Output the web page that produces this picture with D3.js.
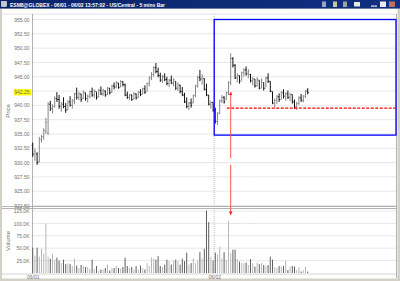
<!DOCTYPE html>
<html>
<head>
<meta charset="utf-8">
<script src="https://cdn.jsdelivr.net/npm/d3@7"></script>
<style>
  html, body { margin: 0; padding: 0; background: #d4d0c8; }
  svg { display: block; font-family: "Liberation Sans", Arial, sans-serif; }
</style>
</head>
<body>
<div id="chart"></div>
<script>
// ESM8 5 min bars, 06/01 - 06/02
const highs = [933.5,932.5,931.8,934.5,934.8,936.0,937.8,940.6,940.8,940.2,941.6,942.3,941.8,940.6,941.4,940.4,940.9,941.6,941.1,942.2,
  943.1,942.4,942.0,942.6,942.2,941.9,942.6,943.1,942.8,942.3,942.9,943.3,942.9,942.6,943.2,943.0,943.6,944.0,944.2,943.9,
  944.4,944.2,943.8,942.4,942.0,941.9,942.3,942.1,942.5,942.8,943.1,943.5,944.0,945.1,945.8,946.8,947.4,946.6,945.7,945.3,
  945.6,945.0,944.6,945.2,944.7,944.2,944.0,943.6,943.2,942.2,941.4,940.6,941.2,941.9,943.6,945.2,946.2,945.4,944.7,943.8,
  941.8,940.8,940.5,939.6,938.8,941.0,941.8,941.6,942.4,944.2,949.1,948.4,947.2,945.6,945.2,945.9,946.5,946.8,946.3,945.5,
  945.0,944.6,944.9,944.4,944.7,944.0,945.0,945.6,944.2,942.4,941.2,941.8,942.1,942.5,942.8,942.3,942.6,942.2,941.9,941.0,
  940.6,941.6,942.0,941.8,942.7,943.0];
const lows = [931.0,930.3,929.6,930.0,933.5,934.0,935.0,934.8,939.0,938.6,939.6,940.6,939.4,938.9,939.5,938.7,939.2,939.8,939.4,940.2,
  941.0,940.9,940.6,941.1,940.8,940.5,941.2,941.5,941.3,941.0,941.4,941.8,941.6,941.5,941.8,941.9,942.2,942.8,943.0,942.9,
  943.2,943.3,941.6,941.1,940.9,940.8,941.1,941.0,941.3,941.6,941.9,942.0,942.5,943.3,944.4,945.0,945.6,944.9,944.1,943.9,
  944.2,943.5,943.2,943.7,943.3,942.7,942.5,942.1,941.6,940.4,939.5,939.2,939.6,940.4,941.4,943.1,944.2,943.6,942.6,941.6,
  940.0,939.4,938.9,936.8,936.6,938.5,940.4,940.3,941.0,941.8,943.5,946.6,944.6,944.0,943.8,944.4,945.0,945.2,944.7,944.0,
  943.5,943.1,943.3,942.8,943.0,942.6,943.2,943.9,942.3,940.2,939.6,940.2,940.6,941.0,941.2,940.8,941.1,940.7,940.3,939.4,
  939.2,940.1,940.6,940.5,941.3,941.9];
const opens = [933.0,931.5,931.5,930.2,934.0,934.5,935.5,935.2,940.2,939.4,939.8,941.2,941.0,939.8,940.2,939.8,939.2,940.6,940.0,940.8,
  942.0,941.4,942.0,941.2,942.2,941.2,941.6,942.4,941.8,942.4,941.5,942.6,942.0,942.5,941.9,943.0,942.3,943.4,943.2,943.9,
  943.2,944.1,943.6,941.8,941.4,941.8,941.1,942.0,941.4,942.3,942.0,942.9,942.4,943.8,944.8,945.4,946.6,945.9,945.2,944.4,
  945.0,944.5,943.8,944.4,943.9,944.2,943.0,943.5,942.4,941.8,940.6,939.8,940.4,940.4,941.7,943.4,944.9,944.6,944.7,942.8,
  941.8,940.2,940.5,939.2,937.2,938.6,940.8,941.4,941.0,942.2,944.0,948.2,947.0,944.8,945.2,944.3,945.7,946.2,945.5,945.4,
  944.3,944.6,943.4,944.4,943.0,944.0,943.0,944.8,944.2,942.4,940.4,940.9,941.5,941.0,942.2,941.6,942.0,941.4,941.9,940.6,
  939.7,940.3,941.3,940.9,941.6,942.5];
const closes = [931.5,932.0,930.0,934.0,934.5,935.6,937.0,940.2,939.5,939.8,941.2,941.0,939.8,940.2,939.8,939.2,940.6,940.0,940.8,942.0,
  941.4,942.0,941.0,942.4,941.2,941.6,942.4,941.8,942.5,941.4,942.6,942.0,942.6,941.8,943.0,942.2,943.4,943.2,944.0,943.1,
  944.2,943.6,941.8,941.4,941.8,941.0,942.0,941.3,942.3,941.9,942.9,942.3,943.8,944.8,945.4,946.6,945.9,945.2,944.4,945.0,
  944.5,943.8,944.4,943.9,944.5,943.0,943.6,942.4,941.8,940.6,939.8,940.4,940.0,941.7,943.4,944.9,944.6,945.0,942.8,941.8,
  940.2,940.5,939.2,937.2,938.6,940.8,941.4,940.6,942.2,944.0,948.2,947.0,944.8,945.2,944.2,945.7,946.2,945.5,946.0,944.3,
  944.6,943.4,944.6,943.0,944.4,943.0,944.8,944.2,942.5,940.4,940.9,941.5,941.0,942.2,941.6,942.0,941.4,941.9,940.6,939.7,
  940.3,941.3,940.9,941.6,942.5,942.25];
// volume in thousands
const volumes = [51,35,51,33,49,39,99,33,29,39,27,31,25,20,27,18,20,18,14,29,15,10,16,14,12,12,8,27,8,14,5,7,7,10,17,5,10,10,14,10,
  9,12,31,14,10,12,7,14,7,15,10,7,20,14,31,29,27,34,14,12,17,27,24,17,25,27,24,17,29,24,41,17,20,29,20,25,42,29,49,126,
  103,33,25,41,37,53,30,42,27,105,40,47,47,28,23,20,20,21,16,28,20,13,21,18,20,16,14,16,33,27,12,10,14,13,14,25,6,13,14,13,
  6,12,3,6,13,3];

const priceTicks = [955, 952.5, 950, 947.5, 945, 942.5, 940, 937.5, 935, 932.5, 930, 927.5, 925, 922.5];
const volumeTicks = [25, 50, 75, 100, 125];
const dayStarts = [0, 83];
const dayLabels = ['06/01', '06/02'];
const lastPrice = 942.25;
const supportLevel = 939.5;
const titleText = 'ESM8@GLOBEX - 06/01 - 06/02 13:57:02 - US/Central - 5 mins Bar';

const width = 400, height = 281;
const plotLeft = 32.5, plotRight = 396;

const svg = d3.select('#chart').append('svg')
  .attr('width', width).attr('height', height);

// window frame
svg.append('rect').attr('x', 0).attr('y', 0).attr('width', width).attr('height', height).attr('fill', '#d4d0c8');
svg.append('rect').attr('x', 2).attr('y', 9).attr('width', 395.5).attr('height', 269.5).attr('fill', '#ffffff');

// title bar
const grad = svg.append('defs').append('linearGradient').attr('id', 'tb');
grad.append('stop').attr('offset', '0%').attr('stop-color', '#0a246a');
grad.append('stop').attr('offset', '100%').attr('stop-color', '#0f2f80');
svg.append('rect').attr('x', 0).attr('y', 0).attr('width', width).attr('height', 8.5).attr('fill', 'url(#tb)');
svg.append('rect').attr('x', 1.5).attr('y', 1.5).attr('width', 5).attr('height', 5).attr('fill', '#c8c8c8').attr('stroke', '#ffffff').attr('stroke-width', 0.5);
svg.append('text').text(titleText)
  .attr('x', 10).attr('y', 6.6)
  .attr('textLength', 155).attr('lengthAdjust', 'spacingAndGlyphs')
  .style('font-size', '6px').style('font-weight', 'bold').style('fill', '#ffffff');
// title bar buttons
[[322, '#9aa4c8'], [333, '#c8c8a0'], [343, '#a0a0a0']].forEach(function (b) {
  svg.append('rect').attr('x', b[0]).attr('y', 1.5).attr('width', 4).attr('height', 5.5).attr('fill', b[1]);
});
svg.append('rect').attr('x', 354).attr('y', 2).attr('width', 6).attr('height', 4.5).attr('fill', '#e8e8e8');
svg.append('rect').attr('x', 371).attr('y', 5.5).attr('width', 6).attr('height', 1.2).attr('fill', '#e8e8e8');
svg.append('rect').attr('x', 380).attr('y', 1.5).attr('width', 6).attr('height', 5.5).attr('fill', '#e8e8f0');
svg.append('rect').attr('x', 389).attr('y', 1.5).attr('width', 6).attr('height', 5.5).attr('fill', '#c07060');

// scales
const x = d3.scaleLinear().domain([0, closes.length - 1]).range([32.7, 307.7]);
const yPrice = d3.scaleLinear().domain([922.5, 955]).range([205.5, 19.5]);
const yVol = d3.scaleLinear().domain([0, 125]).range([273, 211]);

// top line of the price panel
svg.append('line').attr('x1', 2).attr('x2', 397).attr('y1', 14).attr('y2', 14).attr('stroke', '#e4e4ec');

// grid lines
svg.append('g').selectAll('line').data(priceTicks).join('line')
  .attr('x1', plotLeft).attr('x2', plotRight)
  .attr('y1', d => yPrice(d)).attr('y2', d => yPrice(d))
  .attr('stroke', '#c4c4c4').attr('stroke-width', 0.8).attr('stroke-dasharray', '1,1');
svg.append('g').selectAll('line').data(volumeTicks).join('line')
  .attr('x1', plotLeft).attr('x2', plotRight)
  .attr('y1', d => yVol(d)).attr('y2', d => yVol(d))
  .attr('stroke', '#c4c4c4').attr('stroke-width', 0.8).attr('stroke-dasharray', '1,1');
svg.append('g').selectAll('line').data(dayStarts.slice(1)).join('line')
  .attr('x1', d => x(d - 0.5)).attr('x2', d => x(d - 0.5))
  .attr('y1', 14).attr('y2', 274)
  .attr('stroke', '#b0b0b0').attr('stroke-width', 0.8).attr('stroke-dasharray', '1,1');

// left axis lines and panel divider
svg.append('line').attr('x1', plotLeft).attr('x2', plotLeft).attr('y1', 14).attr('y2', 274).attr('stroke', '#a0a0a0').attr('stroke-width', 0.8);
svg.append('line').attr('x1', 2).attr('x2', 397).attr('y1', 206.5).attr('y2', 206.5).attr('stroke', '#a0a0a0').attr('stroke-width', 0.8);
svg.append('line').attr('x1', 2).attr('x2', 397).attr('y1', 208.5).attr('y2', 208.5).attr('stroke', '#a0a0a0').attr('stroke-width', 0.8);
svg.append('line').attr('x1', 2).attr('x2', 397).attr('y1', 274).attr('y2', 274).attr('stroke', '#c8c8c8').attr('stroke-width', 0.8);
svg.append('line').attr('x1', plotRight + 0.5).attr('x2', plotRight + 0.5).attr('y1', 14).attr('y2', 278).attr('stroke', '#a0a0a0').attr('stroke-width', 0.8);

// axes
const priceAxis = svg.append('g')
  .attr('transform', 'translate(' + plotLeft + ',0)')
  .call(d3.axisLeft(yPrice).tickValues(priceTicks).tickSize(0).tickPadding(3).tickFormat(d3.format('.2f')));
const volAxis = svg.append('g')
  .attr('transform', 'translate(' + plotLeft + ',0)')
  .call(d3.axisLeft(yVol).tickValues(volumeTicks).tickSize(0).tickPadding(3).tickFormat(d => d3.format('.1f')(d) + 'K'));
const dayAxis = svg.append('g')
  .attr('transform', 'translate(0,274)')
  .call(d3.axisBottom(x).tickValues(dayStarts.map(d => d ? d - 0.5 : d)).tickSize(0).tickPadding(1)
    .tickFormat((d, i) => dayLabels[i]));
[priceAxis, volAxis, dayAxis].forEach(function (a) {
  a.select('.domain').remove();
  a.selectAll('text').style('font-size', '5px').style('fill', '#707070').style('font-family', '"Liberation Sans", Arial, sans-serif');
});

// axis titles
svg.append('text').text('Price')
  .attr('transform', 'translate(10,' + 111 + ') rotate(-90)')
  .attr('text-anchor', 'middle').style('font-size', '6px').style('fill', '#707070');
svg.append('text').text('Volume')
  .attr('transform', 'translate(10,' + 241 + ') rotate(-90)')
  .attr('text-anchor', 'middle').style('font-size', '6px').style('fill', '#707070');

// volume bars
svg.append('g').selectAll('rect').data(volumes).join('rect')
  .attr('x', (d, i) => x(i) - 0.5)
  .attr('width', 1)
  .attr('y', d => yVol(d))
  .attr('height', d => yVol(0) - yVol(d))
  .attr('fill', (d, i) => closes[i] >= opens[i] ? '#b8b8b8' : '#606060');

// ohlc bars
const bars = svg.append('g').selectAll('g').data(closes).join('g')
  .attr('stroke', (d, i) => d >= opens[i] ? '#888888' : '#141414')
  .attr('stroke-width', 1);
bars.append('line')
  .attr('x1', (d, i) => x(i)).attr('x2', (d, i) => x(i))
  .attr('y1', (d, i) => yPrice(highs[i])).attr('y2', (d, i) => yPrice(lows[i]));
bars.append('line')
  .attr('x1', (d, i) => x(i) - 1).attr('x2', (d, i) => x(i))
  .attr('y1', (d, i) => yPrice(opens[i])).attr('y2', (d, i) => yPrice(opens[i]));
bars.append('line')
  .attr('x1', (d, i) => x(i)).attr('x2', (d, i) => x(i) + 1)
  .attr('y1', d => yPrice(d)).attr('y2', d => yPrice(d));

// last price marker
const lastLabel = priceAxis.append('g').attr('transform', 'translate(0,' + yPrice(lastPrice) + ')');
lastLabel.append('rect').attr('x', -18.5).attr('y', -3.3).attr('width', 17).attr('height', 6.3).attr('fill', '#ffff00');
lastLabel.append('text').text(d3.format('.2f')(lastPrice))
  .attr('x', -3).attr('dy', '0.32em').attr('text-anchor', 'end')
  .style('font-size', '5px').style('fill', '#707070');

// annotations
const defs = svg.select('defs');
defs.append('marker').attr('id', 'arr').attr('viewBox', '0 0 6 6')
  .attr('refX', 5).attr('refY', 3).attr('markerWidth', 4).attr('markerHeight', 4).attr('orient', 'auto')
  .append('path').attr('d', 'M0,0L6,3L0,6Z').attr('fill', '#ff2020');

svg.append('rect')
  .attr('x', x(dayStarts[1] - 0.5)).attr('y', yPrice(955))
  .attr('width', plotRight - x(dayStarts[1] - 0.5)).attr('height', yPrice(934.8) - yPrice(955))
  .attr('fill', 'none').attr('stroke', '#0000ff').attr('stroke-width', 1.3);

svg.append('line')
  .attr('x1', x(88.2)).attr('x2', plotRight)
  .attr('y1', yPrice(supportLevel)).attr('y2', yPrice(supportLevel))
  .attr('stroke', '#ff0000').attr('stroke-width', 1.2).attr('stroke-dasharray', '3,1.5');

svg.append('line')
  .attr('x1', x(90)).attr('x2', x(90))
  .attr('y1', yPrice(930.8)).attr('y2', yPrice(942.3))
  .attr('stroke', '#ff4040').attr('stroke-width', 0.9).attr('marker-end', 'url(#arr)');
svg.append('line')
  .attr('x1', x(90)).attr('x2', x(90))
  .attr('y1', yPrice(929.6)).attr('y2', yVol(118))
  .attr('stroke', '#ff4040').attr('stroke-width', 0.9).attr('marker-end', 'url(#arr)');
</script>
</body>
</html>
